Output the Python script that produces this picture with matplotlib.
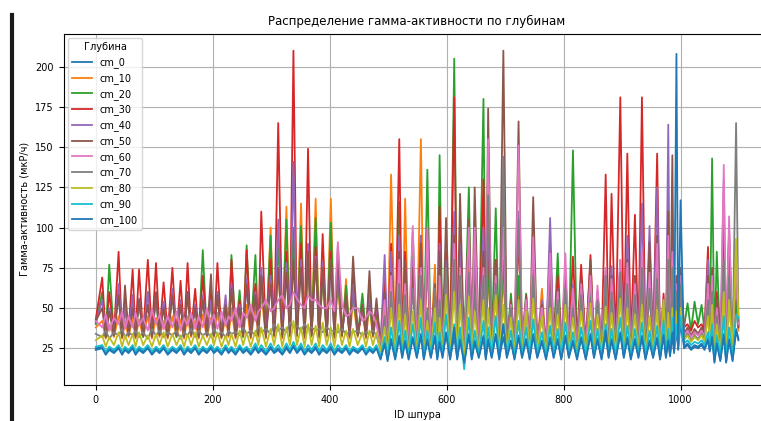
import matplotlib
matplotlib.use('Agg')
from matplotlib import pyplot as plt
from matplotlib.lines import Line2D

# ID positions of the two alternating sets of readings taken off the chart
trough_x = [0, 17, 31, 45, 56, 68, 81, 96, 109, 123,
            138, 151, 163, 176, 190, 202, 215, 227, 239, 252,
            265, 278, 291, 305, 319, 332, 344, 357, 369, 382,
            395, 408, 421, 434, 448, 462, 474, 487, 499, 512,
            524, 535, 549, 561, 573, 584, 593, 606, 618, 630,
            643, 655, 667, 677, 690, 703, 716, 729, 742, 755,
            770, 783, 796, 809, 823, 838, 852, 865, 877, 889,
            903, 915, 928, 940, 953, 965, 975, 982, 989, 996,
            1006, 1018, 1030, 1041, 1050, 1058, 1068, 1078, 1089, 1099]
peak_x = [11, 23, 39, 50, 63, 74, 89, 103, 116, 131,
          145, 157, 170, 183, 197, 208, 222, 232, 246, 258,
          273, 283, 299, 312, 326, 338, 351, 363, 376, 388,
          402, 414, 428, 440, 456, 468, 480, 494, 505, 519,
          529, 542, 556, 567, 580, 588, 599, 613, 623, 638,
          648, 663, 671, 684, 697, 710, 723, 736, 748, 763,
          777, 790, 803, 816, 830, 846, 858, 872, 882, 897,
          909, 922, 934, 947, 960, 971, 979, 986, 993, 1000,
          1012, 1024, 1036, 1047, 1054, 1062, 1074, 1083, 1095]

# gamma activity (mkR/h) at trough_x (lo_) and at peak_x (hi_)
lo_cm_0 = [25, 22, 23, 22, 23, 22, 23, 22, 23, 22,
           23, 22, 23, 22, 23, 23, 22, 23, 22, 23,
           22, 23, 22, 23, 22, 23, 23, 22, 23, 22,
           23, 22, 23, 22, 23, 22, 23, 19, 18, 19,
           20, 19, 20, 19, 20, 19, 20, 19, 19, 17,
           19, 20, 19, 20, 19, 20, 19, 20, 19, 20,
           19, 20, 19, 20, 19, 19, 20, 19, 20, 19,
           20, 19, 20, 19, 20, 19, 20, 21, 23, 25,
           26, 25, 26, 25, 24, 17, 18, 17, 18, 31]
hi_cm_0 = [26, 25, 26, 25, 26, 25, 26, 25, 26, 25,
           26, 25, 26, 25, 26, 25, 26, 25, 26, 25,
           26, 25, 26, 25, 26, 27, 26, 25, 26, 25,
           26, 25, 26, 25, 26, 25, 26, 29, 31, 33,
           30, 32, 34, 31, 33, 30, 35, 32, 31, 34,
           30, 33, 31, 34, 32, 30, 33, 31, 34, 30,
           32, 31, 33, 30, 32, 34, 31, 33, 31, 35,
           32, 31, 33, 30, 32, 34, 31, 33, 36, 40,
           28, 27, 28, 31, 33, 29, 34, 31, 37]

lo_cm_10 = [38, 31, 32, 31, 32, 31, 32, 31, 32, 31,
            32, 31, 32, 31, 32, 32, 31, 32, 31, 32,
            31, 32, 31, 32, 31, 32, 32, 31, 32, 31,
            32, 31, 32, 31, 32, 31, 32, 26, 25, 26,
            26, 25, 26, 25, 26, 25, 26, 25, 25, 22,
            25, 26, 25, 26, 25, 26, 25, 26, 25, 26,
            25, 26, 25, 26, 25, 25, 26, 25, 26, 25,
            26, 25, 26, 25, 26, 25, 26, 27, 29, 31,
            34, 33, 34, 33, 32, 24, 25, 24, 25, 36]
hi_cm_10 = [42, 40, 45, 42, 44, 43, 45, 44, 42, 45,
            43, 45, 42, 46, 44, 47, 45, 50, 46, 52,
            50, 60, 100, 75, 113, 90, 115, 80, 118, 70,
            118, 65, 68, 55, 50, 52, 45, 50, 133, 80,
            118, 70, 155, 75, 77, 70, 65, 80, 70, 75,
            65, 70, 75, 60, 70, 50, 65, 50, 60, 62,
            60, 55, 58, 60, 55, 58, 52, 60, 55, 62,
            58, 55, 60, 58, 62, 50, 60, 58, 50, 52,
            35, 34, 35, 50, 55, 45, 60, 55, 50]

lo_cm_20 = [40, 32, 33, 32, 34, 33, 32, 33, 34, 33,
            32, 33, 34, 32, 33, 33, 32, 34, 33, 32,
            33, 34, 32, 33, 34, 33, 33, 34, 33, 32,
            33, 34, 33, 34, 33, 34, 33, 27, 26, 27,
            27, 26, 27, 26, 27, 26, 27, 26, 26, 23,
            26, 27, 26, 27, 26, 27, 26, 27, 26, 27,
            26, 27, 26, 27, 26, 26, 27, 26, 27, 26,
            27, 26, 27, 26, 27, 26, 27, 28, 30, 32,
            38, 36, 40, 36, 34, 25, 26, 25, 26, 38]
hi_cm_20 = [60, 77, 60, 50, 58, 55, 60, 55, 52, 58,
            54, 60, 52, 86, 55, 60, 50, 83, 61, 89,
            83, 70, 95, 90, 105, 100, 101, 80, 106, 70,
            103, 70, 64, 60, 59, 55, 48, 60, 80, 116,
            70, 97, 80, 136, 55, 145, 70, 205, 80, 125,
            75, 180, 80, 112, 80, 59, 70, 59, 60, 48,
            70, 84, 60, 148, 70, 65, 55, 62, 60, 65,
            70, 60, 75, 70, 72, 50, 75, 70, 50, 55,
            53, 54, 52, 65, 143, 85, 70, 60, 55]

lo_cm_30 = [43, 33, 34, 33, 35, 34, 33, 34, 35, 34,
            33, 34, 35, 33, 34, 34, 33, 35, 34, 33,
            34, 35, 33, 34, 35, 34, 34, 35, 34, 33,
            34, 35, 34, 35, 34, 35, 34, 28, 27, 28,
            28, 27, 28, 27, 28, 27, 28, 27, 27, 24,
            27, 28, 27, 28, 27, 28, 27, 28, 27, 28,
            27, 28, 27, 28, 27, 27, 28, 27, 28, 27,
            28, 27, 28, 27, 28, 27, 28, 29, 31, 33,
            38, 36, 38, 36, 35, 26, 27, 26, 27, 40]
hi_cm_30 = [69, 60, 85, 55, 74, 74, 80, 78, 66, 75,
            67, 78, 62, 70, 60, 78, 55, 80, 55, 86,
            65, 110, 80, 165, 85, 210, 90, 149, 88, 96,
            85, 80, 55, 70, 50, 65, 50, 70, 90, 155,
            85, 80, 95, 90, 60, 113, 85, 181, 95, 100,
            90, 130, 100, 80, 110, 50, 95, 50, 80, 50,
            90, 70, 65, 82, 77, 83, 60, 133, 121, 181,
            146, 108, 181, 80, 146, 59, 110, 100, 60, 70,
            40, 42, 40, 88, 70, 60, 90, 99, 85]

lo_cm_40 = [41, 33, 34, 33, 34, 33, 34, 33, 34, 33,
            34, 33, 34, 33, 34, 34, 33, 34, 33, 34,
            33, 34, 33, 34, 33, 34, 34, 33, 34, 33,
            34, 33, 34, 33, 34, 33, 34, 27, 26, 27,
            27, 26, 27, 26, 27, 26, 27, 26, 26, 23,
            26, 27, 26, 27, 26, 27, 26, 27, 26, 27,
            26, 27, 26, 27, 26, 26, 27, 26, 27, 26,
            27, 26, 27, 26, 27, 26, 27, 28, 30, 32,
            34, 33, 34, 33, 32, 25, 26, 25, 26, 39]
hi_cm_40 = [55, 50, 65, 52, 58, 56, 60, 58, 54, 62,
            55, 60, 52, 58, 55, 60, 58, 65, 52, 68,
            60, 75, 70, 105, 78, 141, 80, 90, 82, 78,
            80, 75, 55, 65, 50, 62, 52, 83, 85, 95,
            78, 80, 95, 85, 60, 90, 80, 110, 90, 95,
            85, 100, 110, 75, 120, 52, 110, 54, 85, 55,
            106, 62, 70, 65, 62, 72, 60, 70, 76, 80,
            95, 70, 115, 101, 125, 52, 164, 100, 60, 70,
            37, 36, 37, 80, 65, 55, 130, 95, 80]

lo_cm_50 = [42, 32, 33, 32, 33, 32, 33, 32, 33, 32,
            33, 32, 33, 32, 33, 33, 32, 33, 32, 33,
            32, 33, 32, 33, 32, 33, 33, 32, 33, 32,
            33, 32, 33, 32, 33, 32, 33, 27, 26, 27,
            27, 26, 27, 26, 27, 26, 27, 26, 26, 23,
            26, 27, 26, 27, 26, 27, 26, 27, 26, 27,
            26, 27, 26, 27, 26, 26, 27, 26, 27, 26,
            27, 26, 27, 26, 27, 26, 27, 28, 30, 32,
            34, 33, 34, 33, 32, 25, 26, 25, 26, 38]
hi_cm_50 = [50, 48, 58, 64, 50, 55, 52, 60, 50, 58,
            52, 60, 50, 55, 71, 58, 52, 62, 50, 65,
            58, 70, 65, 75, 72, 80, 75, 85, 80, 75,
            80, 88, 58, 82, 52, 73, 56, 60, 72, 85,
            80, 75, 90, 100, 65, 85, 106, 95, 121, 105,
            125, 85, 174, 80, 210, 55, 166, 58, 119, 52,
            70, 62, 72, 60, 68, 80, 58, 73, 70, 75,
            80, 70, 85, 91, 95, 52, 110, 145, 70, 75,
            38, 37, 38, 70, 75, 55, 100, 90, 85]

lo_cm_60 = [42, 46, 44, 48, 45, 47, 44, 49, 46, 45,
            48, 44, 47, 45, 50, 46, 48, 45, 50, 47,
            52, 48, 55, 50, 58, 52, 56, 50, 55, 52,
            50, 48, 52, 46, 50, 44, 46, 26, 25, 26,
            26, 25, 26, 25, 26, 25, 26, 25, 25, 22,
            25, 26, 25, 26, 25, 26, 25, 26, 25, 26,
            25, 26, 25, 26, 25, 25, 26, 25, 26, 25,
            26, 25, 26, 25, 26, 25, 26, 27, 29, 31,
            33, 32, 33, 32, 31, 24, 25, 24, 25, 40]
hi_cm_60 = [38, 36, 40, 37, 38, 39, 36, 40, 37, 38,
            36, 39, 37, 38, 40, 37, 39, 42, 38, 44,
            42, 50, 48, 55, 50, 60, 52, 58, 55, 50,
            55, 91, 45, 50, 42, 48, 40, 55, 70, 80,
            65, 101, 75, 100, 58, 70, 65, 90, 75, 100,
            100, 75, 155, 70, 100, 52, 151, 55, 94, 50,
            84, 60, 84, 62, 65, 70, 64, 75, 68, 80,
            78, 65, 85, 72, 90, 55, 95, 85, 65, 70,
            36, 35, 36, 65, 70, 50, 139, 107, 80]

lo_cm_70 = [34, 36, 35, 37, 35, 36, 35, 37, 36, 35,
            36, 35, 37, 36, 35, 37, 35, 36, 35, 38,
            36, 39, 37, 40, 38, 41, 39, 40, 38, 37,
            38, 36, 37, 35, 36, 35, 36, 24, 23, 24,
            24, 23, 24, 23, 24, 23, 24, 23, 23, 20,
            23, 24, 23, 24, 23, 24, 23, 24, 23, 24,
            23, 24, 23, 24, 23, 23, 24, 23, 24, 23,
            24, 23, 24, 23, 24, 23, 24, 25, 27, 29,
            31, 30, 31, 30, 29, 23, 24, 23, 24, 42]
hi_cm_70 = [32, 31, 33, 32, 33, 32, 31, 33, 32, 33,
            31, 33, 32, 33, 32, 33, 32, 34, 33, 34,
            33, 35, 34, 36, 35, 38, 36, 37, 36, 35,
            36, 35, 34, 35, 33, 34, 33, 45, 60, 65,
            58, 62, 70, 50, 62, 55, 75, 80, 70, 72,
            60, 70, 120, 65, 144, 50, 105, 48, 70, 45,
            60, 55, 62, 50, 58, 55, 55, 70, 60, 72,
            65, 58, 75, 62, 68, 55, 80, 75, 60, 65,
            34, 33, 34, 55, 60, 45, 80, 70, 165]

lo_cm_80 = [30, 26, 27, 26, 27, 26, 27, 26, 27, 26,
            27, 26, 27, 26, 27, 27, 26, 27, 26, 27,
            26, 27, 26, 27, 26, 27, 27, 26, 27, 26,
            27, 26, 27, 26, 27, 26, 27, 23, 22, 23,
            23, 22, 23, 22, 23, 22, 23, 22, 22, 18,
            22, 23, 22, 23, 22, 23, 22, 23, 22, 23,
            22, 23, 22, 23, 22, 22, 23, 22, 23, 22,
            23, 22, 23, 22, 23, 22, 23, 24, 26, 28,
            30, 29, 30, 29, 28, 22, 23, 22, 23, 45]
hi_cm_80 = [33, 32, 35, 33, 34, 35, 33, 34, 35, 34,
            33, 34, 35, 33, 34, 35, 33, 34, 36, 35,
            36, 38, 37, 40, 38, 42, 38, 40, 39, 41,
            38, 40, 36, 37, 35, 36, 35, 38, 50, 52,
            46, 48, 55, 42, 50, 44, 58, 60, 52, 57,
            48, 55, 50, 58, 52, 44, 55, 48, 56, 45,
            50, 46, 52, 44, 48, 53, 46, 51, 47, 56,
            50, 46, 52, 45, 49, 55, 47, 50, 48, 50,
            33, 32, 33, 45, 52, 40, 60, 55, 93]

lo_cm_90 = [26, 23, 24, 23, 24, 23, 24, 23, 24, 23,
            24, 23, 24, 23, 24, 24, 23, 24, 23, 24,
            23, 24, 23, 24, 23, 24, 24, 23, 24, 23,
            24, 23, 24, 23, 24, 23, 24, 20, 19, 20,
            21, 20, 21, 20, 21, 20, 21, 20, 20, 12,
            20, 21, 20, 21, 20, 21, 20, 21, 20, 21,
            20, 21, 20, 21, 20, 20, 21, 20, 21, 20,
            21, 20, 21, 20, 21, 20, 21, 22, 24, 26,
            28, 27, 28, 27, 26, 19, 20, 19, 20, 44]
hi_cm_90 = [27, 26, 27, 26, 27, 26, 27, 26, 27, 26,
            27, 26, 27, 26, 27, 26, 27, 26, 27, 26,
            28, 27, 28, 27, 28, 29, 28, 27, 28, 27,
            28, 27, 27, 26, 27, 26, 27, 32, 38, 42,
            36, 40, 44, 36, 41, 35, 46, 40, 38, 44,
            36, 42, 38, 45, 40, 36, 42, 38, 43, 35,
            39, 37, 41, 35, 38, 42, 37, 40, 37, 44,
            39, 37, 41, 36, 39, 42, 37, 44, 40, 45,
            30, 29, 30, 35, 40, 33, 45, 38, 46]

lo_cm_100 = [24, 21, 22, 21, 22, 21, 22, 21, 22, 21,
             22, 21, 22, 21, 22, 22, 21, 22, 21, 22,
             21, 22, 21, 22, 21, 22, 22, 21, 22, 21,
             22, 21, 22, 21, 22, 21, 22, 18, 17, 18,
             19, 18, 19, 18, 19, 18, 19, 18, 18, 16,
             18, 19, 18, 19, 18, 19, 18, 19, 18, 19,
             18, 19, 18, 19, 18, 18, 19, 18, 19, 18,
             19, 18, 19, 18, 19, 18, 19, 20, 22, 24,
             25, 24, 25, 24, 23, 16, 17, 16, 17, 30]
hi_cm_100 = [25, 24, 25, 24, 25, 24, 25, 24, 25, 24,
             25, 24, 25, 24, 25, 24, 25, 24, 25, 24,
             25, 24, 25, 24, 25, 26, 25, 24, 25, 24,
             25, 24, 25, 24, 25, 24, 25, 28, 30, 32,
             29, 31, 33, 30, 32, 29, 34, 38, 30, 33,
             29, 32, 30, 33, 40, 29, 32, 30, 33, 29,
             31, 30, 32, 29, 31, 33, 30, 36, 30, 34,
             31, 30, 32, 29, 31, 33, 30, 35, 208, 117,
             27, 26, 27, 30, 32, 28, 33, 30, 36]

depths = ['cm_0', 'cm_10', 'cm_20', 'cm_30', 'cm_40', 'cm_50',
          'cm_60', 'cm_70', 'cm_80', 'cm_90', 'cm_100']
lows = [lo_cm_0, lo_cm_10, lo_cm_20, lo_cm_30, lo_cm_40, lo_cm_50,
        lo_cm_60, lo_cm_70, lo_cm_80, lo_cm_90, lo_cm_100]
highs = [hi_cm_0, hi_cm_10, hi_cm_20, hi_cm_30, hi_cm_40, hi_cm_50,
         hi_cm_60, hi_cm_70, hi_cm_80, hi_cm_90, hi_cm_100]


def merge(lo, hi):
    # readings in ID order: trough_x[0], peak_x[0], trough_x[1], ...
    assert len(lo) == len(trough_x) and len(hi) == len(peak_x)
    xs, ys = [trough_x[0]], [lo[0]]
    for i in range(len(peak_x)):
        xs += [peak_x[i], trough_x[i + 1]]
        ys += [hi[i], lo[i + 1]]
    return xs, ys


fig = plt.figure(figsize=(7.61, 4.21), dpi=100)
ax = fig.add_axes([0.0836, 0.0855, 0.929, 0.8347])

for name, lo, hi in zip(depths, lows, highs):
    xs, ys = merge(lo, hi)
    ax.plot(xs, ys, lw=1.3, label=name)

ax.set_xlim(-55, 1154)
ax.set_ylim(2.2, 220.6)
ax.set_xticks([0, 200, 400, 600, 800, 1000])
ax.set_yticks([25, 50, 75, 100, 125, 150, 175, 200])
ax.tick_params(labelsize=7)
ax.grid(True)
ax.set_title('Распределение гамма-активности по глубинам', fontsize=8.5)
ax.set_xlabel('ID шпура', fontsize=7)
ax.set_ylabel('Гамма-активность (мкР/ч)', fontsize=7)
ax.legend(title='Глубина', loc='upper left', fontsize=7, title_fontsize=7)

# dark bar at the left edge of the screenshot
fig.add_artist(Line2D([0.016, 0.016], [0.0, 0.965], color='#1a1a1a', lw=3,
                      transform=fig.transFigure))

fig.savefig('out.png', dpi=100)
